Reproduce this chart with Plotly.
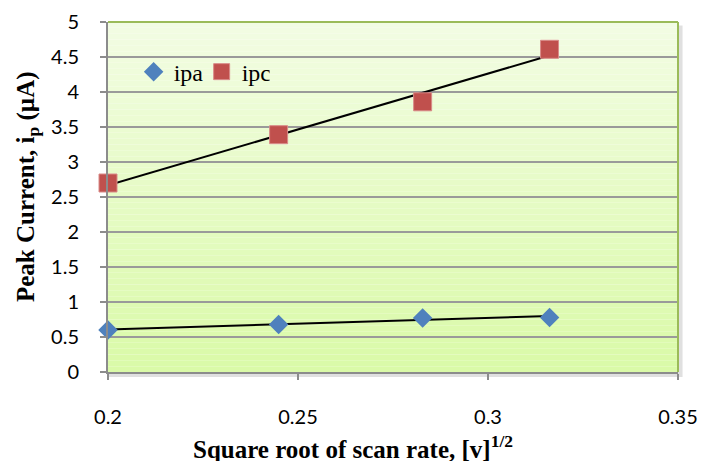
import numpy as np
import plotly.graph_objects as go

# Square root of scan rate, [v]^1/2
sqrt_scan_rate = [0.2, 0.2449, 0.2828, 0.3162]
# Peak currents (µA)
ipa = [0.60, 0.68, 0.77, 0.78]
ipc = [2.70, 3.39, 3.86, 4.61]

x_ticks = [0.2, 0.25, 0.3, 0.35]
y_ticks = [0, 0.5, 1, 1.5, 2, 2.5, 3, 3.5, 4, 4.5, 5]

fig = go.Figure()

# Linear trendlines fitted to each series
for ys in (ipa, ipc):
    slope, intercept = np.polyfit(sqrt_scan_rate, ys, 1)
    xs = [min(sqrt_scan_rate), max(sqrt_scan_rate)]
    fig.add_trace(go.Scatter(
        x=xs, y=[slope * v + intercept for v in xs], mode="lines",
        line=dict(color="black", width=2), showlegend=False,
        hoverinfo="skip", cliponaxis=False))

fig.add_trace(go.Scatter(
    x=sqrt_scan_rate, y=ipa, mode="markers", name="ipa", cliponaxis=False,
    marker=dict(symbol="diamond", size=15, color="#4f81bd")))
fig.add_trace(go.Scatter(
    x=sqrt_scan_rate, y=ipc, mode="markers", name="ipc", cliponaxis=False,
    marker=dict(symbol="square", size=18, color="#c0504d",
                line=dict(color="#d98b89", width=1))))

# Vertical gradient fill for the plot area (pale yellow at top to green at bottom)
shapes = []
top = np.array([243, 253, 228])
bottom = np.array([218, 250, 168])
n = 60
for i in range(n):
    t = (i + 0.5) / n
    c = top + (bottom - top) * t
    shapes.append(dict(
        type="rect", xref="x domain", yref="y domain",
        x0=0, x1=1, y0=1 - (i + 1) / n, y1=1 - i / n,
        fillcolor=f"rgb({int(c[0])},{int(c[1])},{int(c[2])})",
        line=dict(width=0), layer="below"))
# Soft shadow along the right and bottom edges
shapes.append(dict(type="rect", xref="x domain", yref="y domain",
                   x0=1.0, x1=1.008, y0=-0.014, y1=0.99,
                   fillcolor="rgba(0,0,0,0.12)", line=dict(width=0), layer="below"))
shapes.append(dict(type="rect", xref="x domain", yref="y domain",
                   x0=0.0, x1=1.0, y0=-0.014, y1=0.0,
                   fillcolor="rgba(0,0,0,0.12)", line=dict(width=0), layer="below"))
# Green frame on top and right
shapes.append(dict(type="line", xref="x domain", yref="y domain",
                   x0=0, x1=1, y0=1, y1=1, line=dict(color="#9bbb59", width=2)))
shapes.append(dict(type="line", xref="x domain", yref="y domain",
                   x0=1, x1=1, y0=0, y1=1, line=dict(color="#9bbb59", width=2)))

title_font = dict(family="Liberation Serif", size=25, color="black")
annotations = [
    dict(text="<b>Square root of scan rate, [v]<sup>1/2</sup></b>",
         xref="paper", yref="paper", x=(353 - 108) / 570, y=-(447 - 372) / 350,
         xanchor="center", yanchor="middle", showarrow=False, font=title_font),
    dict(text="<b>Peak Current, i<sub>p</sub> (µA)</b>",
         xref="paper", yref="paper", x=-(108 - 27) / 570, y=(372 - 187) / 350,
         xanchor="center", yanchor="middle", textangle=-90, showarrow=False,
         font=title_font),
]

fig.update_layout(
    width=702, height=461,
    margin=dict(l=108, r=24, t=22, b=89),
    paper_bgcolor="white", plot_bgcolor="rgba(0,0,0,0)",
    shapes=shapes, annotations=annotations,
    showlegend=True,
    legend=dict(orientation="h", x=0.045, y=0.857, yanchor="middle",
                bgcolor="rgba(0,0,0,0)",
                font=dict(family="Liberation Serif", size=24, color="black"),
                itemwidth=30, tracegroupgap=0,
                entrywidth=23, entrywidthmode="pixels"),
    font=dict(family="Lato, Open Sans, sans-serif", size=20, color="black"),
)

fig.update_xaxes(
    range=[0.2, 0.35], tickvals=x_ticks, ticktext=[str(v) for v in x_ticks],
    showgrid=False, zeroline=False, automargin=False,
    showline=True, linecolor="#8c8c8c", linewidth=2,
    ticks="outside", ticklen=6, tickcolor="#8c8c8c", tickwidth=1.5,
    ticklabelstandoff=20,
)
fig.update_yaxes(
    range=[0, 5], tickvals=y_ticks, ticktext=[f"{v:g}" for v in y_ticks],
    showgrid=True, gridcolor="#9a9a9a", gridwidth=1.5, zeroline=False,
    automargin=False,
    showline=True, linecolor="#8c8c8c", linewidth=2,
    ticks="outside", ticklen=6, tickcolor="#8c8c8c", tickwidth=1.5,
    ticklabelstandoff=17,
)

fig.write_html("out.html")
